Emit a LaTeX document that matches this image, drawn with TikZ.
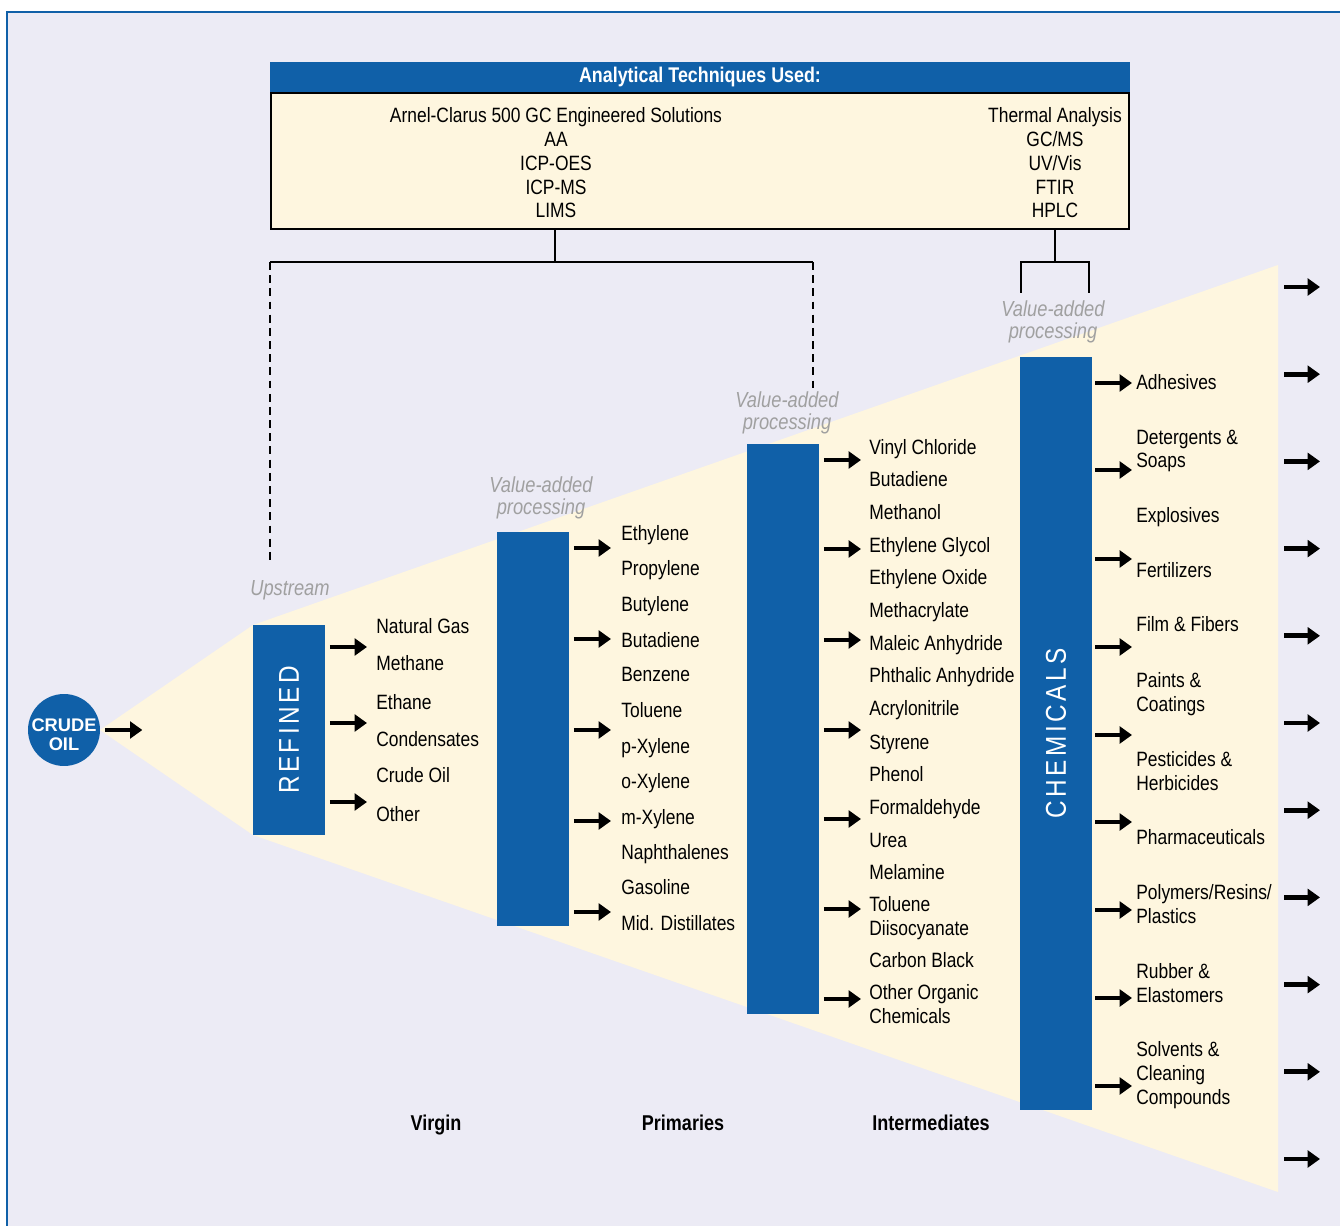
\documentclass[tikz,border=0pt]{standalone}
\usepackage{fontspec}
\setmainfont[FakeStretch=0.84]{Liberation Sans}
\newfontfamily\widefont{Liberation Sans}
\newfontfamily\capsfont[FakeStretch=0.85,LetterSpace=12]{Liberation Sans}
\usetikzlibrary{arrows.meta,positioning}

\definecolor{panel}{RGB}{236,235,245}
\definecolor{cream}{RGB}{254,246,223}
\definecolor{oilblue}{RGB}{16,96,168}
\definecolor{notegray}{RGB}{160,160,160}

\newcommand\itemsize{\fontsize{11.8}{13.6}\selectfont}

\tikzset{
  stage/.style={fill=oilblue,inner sep=0pt,outer sep=0pt,minimum width=1.44cm},
  stagetext/.style={rotate=90,text=white,inner sep=0pt,font=\capsfont\fontsize{16.3}{16}\selectfont},
  item/.style={anchor=base west,inner sep=0pt,align=left,font=\itemsize},
  note/.style={text=notegray,align=center,inner sep=0pt,font=\fontsize{12.4}{12.5}\selectfont\itshape},
  fat/.style={line width=2.8pt,-{Triangle[length=7pt,width=9.5pt]}},
  link/.style={line width=1.5pt},
  tapline/.style={link,dash pattern=on 4.5pt off 3pt},
  phase/.style={anchor=base,inner sep=0pt,font=\fontsize{12.2}{13.6}\selectfont\bfseries},
}

\begin{document}
\begin{tikzpicture}[x=0.02cm,y=-0.02cm]
  \fill[white] (0,0) rectangle (1340,1226);
  \useasboundingbox (0,0) rectangle (1340,1226);
  \fill[panel] (7,12) rectangle (1340,1226);
  \draw[oilblue,line width=0.8pt] (7,1226) -- (7,12) -- (1340,12);

  \fill[cream] (100,730) -- (253,625) -- (1278,265) -- (1278,1192) -- (253,835) -- cycle;

  \node[draw,line width=1.1pt,fill=cream,minimum width=17.16cm,minimum height=2.72cm,
    inner sep=0pt] (tech) at (700,161) {};
  \node[fill=oilblue,text=white,font=\fontsize{12.1}{13.6}\selectfont\bfseries,minimum width=17.2cm,
    minimum height=0.6cm,inner sep=0pt,above=0pt of tech] (head) {Analytical Techniques Used:};
  \node[anchor=base,align=center,inner sep=0pt,font=\itemsize] (leftlist) at (556,218)
    {Arnel-Clarus 500 GC Engineered Solutions\\AA\\ICP-OES\\ICP-MS\\LIMS};
  \node[anchor=base,align=center,inner sep=0pt,font=\itemsize] (rightlist) at (1055,218)
    {Thermal Analysis\\GC/MS\\UV/Vis\\FTIR\\HPLC};

  \coordinate (forkA) at (555,262);
  \coordinate (forkB) at (1055,262);
  \coordinate (tapA) at (270,565);
  \coordinate (tapB) at (813,390);
  \coordinate (tapC) at (1021,293);
  \coordinate (tapD) at (1089,293);
  \draw[link] (tech.south -| forkA) -- (forkA);
  \draw[link] (tapA |- forkA) -- (tapB |- forkA);
  \draw[tapline] (tapA |- forkA) -- (tapA);
  \draw[tapline] (tapB |- forkA) -- (tapB);
  \draw[link] (tech.south -| forkB) -- (forkB);
  \draw[link] (tapC) -- (tapC |- forkB) -- (tapD |- forkB) -- (tapD);

  \node[circle,fill=oilblue,minimum size=1.44cm,inner sep=0pt] (crude) at (64,730) {};
  \node[text=white,align=center,inner sep=0pt,
    font=\widefont\bfseries\fontsize{10.4}{10.8}\selectfont] (crudetext)
    at ([yshift=-2.6pt]crude.center) {CRUDE\\OIL};
  \draw[fat] (crude.east) ++(5,0) -- ++(37,0);

  \node[stage,minimum height=4.2cm] (refined) at (289,730) {};
  \node[stagetext] (refinedtext) at (refined) {REFINED};
  \node[stage,minimum height=7.88cm] (primary) at (533,729) {};
  \node[stage,minimum height=11.4cm] (inter) at (783,729) {};
  \node[stage,minimum height=15.06cm] (chem) at (1056,733.5) {};
  \node[stagetext] (chemtext) at (chem) {CHEMICALS};

  \foreach \y in {647,723,802}
    \draw[fat] (refined.east |- 0,\y) ++(5,0) -- ++(37,0);
  \foreach \y in {548,639,730,821,912}
    \draw[fat] (primary.east |- 0,\y) ++(5,0) -- ++(37,0);
  \foreach \y in {460,549,640,730,819,909,999}
    \draw[fat] (inter.east |- 0,\y) ++(5,0) -- ++(37,0);
  \foreach \y in {383,470,559,647,735,822,910,998,1086}
    \draw[fat] (chem.east |- 0,\y) ++(3,0) -- ++(37,0);
  \coordinate (rim) at (1278,265);
  \foreach \k in {0,...,10}
    \draw[fat] (rim) ++(6,22+87.2*\k) -- ++(36,0);

  \foreach \t/\y [count=\i] in {Natural Gas/634,Methane/671,Ethane/709,Condensates/746,
      Crude Oil/783,Other/821}
    \node[item] (refd\i) at (376,\y) {\t};
  \foreach \t/\y [count=\i] in {Ethylene/541,Propylene/576,Butylene/612,Butadiene/647,
      Benzene/682,Toluene/718,p-Xylene/753,o-Xylene/788,m-Xylene/824,Naphthalenes/859,
      Gasoline/894,Mid. Distillates/930}
    \node[item] (prim\i) at (621,\y) {\t};
  \foreach \t/\y [count=\i] in {Vinyl Chloride/455,Butadiene/487,Methanol/520,
      Ethylene Glycol/553,Ethylene Oxide/585,Methacrylate/618,Maleic Anhydride/651,
      Phthalic Anhydride/683,Acrylonitrile/716,Styrene/749,Phenol/781,Formaldehyde/814,
      Urea/847,Melamine/879,Toluene\\Diisocyanate/935,Carbon Black/967,
      Other Organic\\Chemicals/1023}
    \node[item] (mid\i) at (869,\y) {\t};
  \foreach \t/\y [count=\i] in {Adhesives/390,Detergents \&\\Soaps/468,Explosives/523,
      Fertilizers/578,Film \& Fibers/632,Paints \&\\Coatings/711,Pesticides \&\\Herbicides/790,
      Pharmaceuticals/844,{Polymers/Resins/\\Plastics}/923,Rubber \&\\Elastomers/1002,
      Solvents \&\\Cleaning\\Compounds/1104}
    \node[item] (chm\i) at (1136,\y) {\t};

  \node[note,anchor=base] (upstream) at (290,596) {Upstream};
  \node[note] (vaprimary) at (541,498) {Value-added\\processing};
  \node[note] (vainter) at (787,413) {Value-added\\processing};
  \node[note] (vachem) at (1053,322) {Value-added\\processing};

  \node[phase] (virgin) at (436,1130) {Virgin};
  \node[phase] (primaries) at (683,1130) {Primaries};
  \node[phase] (intermediates) at (931,1130) {Intermediates};
\end{tikzpicture}
\end{document}
